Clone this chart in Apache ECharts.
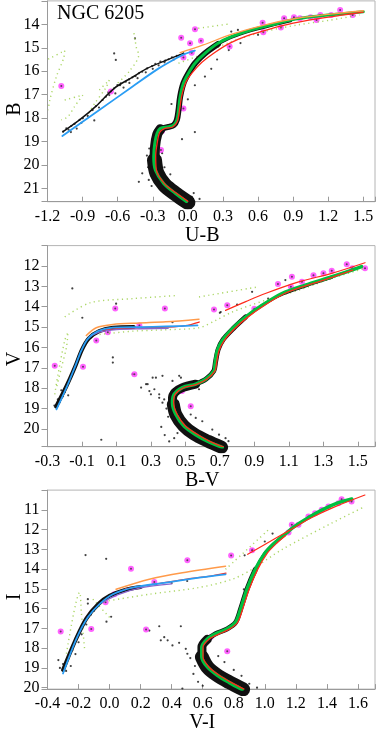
<!DOCTYPE html>
<html>
<head>
<meta charset="utf-8">
<title>NGC 6205</title>
<script src="https://cdn.jsdelivr.net/npm/echarts@6/dist/echarts.min.js"></script>
<style>
  html, body { margin: 0; padding: 0; background: #fff; }
  #chart { width: 378px; height: 734px; }
</style>
</head>
<body>
<div id="chart"></div>
<script>
// ---------- panel 1 : B vs U-B ----------
var ubTicksX = [-1.2, -0.9, -0.6, -0.3, 0.0, 0.3, 0.6, 0.9, 1.2, 1.5]
var ubTicksY = [14, 15, 16, 17, 18, 19, 20, 21]
// dense black star cloud (ridge of the sequence)
var ubCloudMS = [[0.0, 21.6], [-0.1, 21.25], [-0.2, 20.85], [-0.265, 20.35], [-0.285, 19.8]]
var ubCloudTO = [[-0.285, 19.9], [-0.28, 19.2], [-0.262, 18.7], [-0.235, 18.48]]
var ubCloudSGB = [[-0.235, 18.46], [-0.165, 18.38], [-0.12, 18.3], [-0.094, 18.08], [-0.08, 17.66], [-0.066, 17.09], [-0.038, 16.52], [0.005, 16.09], [0.061, 15.66], [0.146, 15.24], [0.258, 14.84]]
var ubCloudRGB = [[0.258, 14.84], [0.371, 14.56], [0.541, 14.27], [0.71, 14.05], [0.879, 13.85]]
var ubCloudHB = [[-1.067, 18.58], [-0.926, 18.08], [-0.785, 17.49], [-0.63, 16.73], [-0.475, 16.26], [-0.348, 15.88], [-0.193, 15.55], [-0.038, 15.24]]
var ubStars = [[-1.067, 18.58], [-1.039, 18.44], [-0.997, 18.34], [-0.969, 18.25], [-0.926, 18.08], [-0.898, 18.01], [-0.856, 17.91], [-0.814, 17.66],
  [-0.785, 17.49], [-0.729, 17.23], [-0.701, 17.09], [-0.672, 17.02], [-0.63, 16.73], [-0.602, 16.59], [-0.574, 16.52], [-0.531, 16.45],
  [-0.503, 16.35], [-0.475, 16.26], [-0.447, 16.21], [-0.419, 16.09], [-0.39, 16.02], [-0.348, 15.88], [-0.306, 15.78], [-0.278, 15.69],
  [-0.235, 15.59], [-0.193, 15.55], [-0.165, 15.49], [-0.136, 15.41], [-0.094, 15.35], [-0.066, 15.31], [-0.038, 15.24], [-1.0, 18.6],
  [-0.95, 18.45], [-0.8, 18.1], [-0.62, 16.95], [-0.55, 16.7], [-0.452, 14.6], [-0.63, 15.24], [-0.616, 15.52], [-0.419, 20.72],
  [-0.334, 20.64], [-0.136, 21.07], [0.033, 21.36], [-0.39, 20.36], [0.371, 14.31], [0.428, 14.24], [0.146, 16.23], [0.2, 15.9],
  [0.35, 15.1], [0.45, 14.8], [0.6, 14.45], [0.8, 14.1], [0.06, 18.6], [-0.05, 18.9], [-0.35, 19.6], [-0.34, 20.1], [0.05, 21.2], [-0.15, 20.4],
  [-1.02, 18.5], [-0.91, 18.2], [-0.76, 17.55], [-0.68, 16.9], [-0.58, 16.6], [-0.5, 16.5], [-0.43, 16.3], [-0.36, 16.05], [-0.3, 15.9],
  [-0.25, 15.75], [-0.2, 15.62], [-0.12, 15.5], [-0.33, 19.3], [-0.22, 19.5], [-0.2, 20.1], [-0.31, 20.9], [-0.08, 21.4], [0.1, 21.45],
  [-0.14, 17.4], [0.0, 17.2], [0.06, 16.6], [0.25, 15.5], [0.12, 15.3]]
// isochrone / model lines
var ubGreen = [[-0.01, 21.57], [-0.108, 21.21], [-0.207, 20.79], [-0.278, 20.22], [-0.292, 19.65], [-0.283, 19.08], [-0.263, 18.65], [-0.235, 18.44],
  [-0.165, 18.37], [-0.122, 18.3], [-0.094, 18.08], [-0.08, 17.66], [-0.066, 17.09], [-0.038, 16.52], [0.005, 16.09], [0.061, 15.66],
  [0.146, 15.24], [0.258, 14.81], [0.371, 14.53], [0.541, 14.24], [0.71, 14.03], [0.879, 13.82], [1.077, 13.67], [1.302, 13.56], [1.5, 13.46]]
var ubRed = [[0.0, 21.55], [-0.1, 21.2], [-0.2, 20.8], [-0.27, 20.2], [-0.275, 19.6], [-0.26, 19.0], [-0.24, 18.6], [-0.2, 18.45], [-0.13, 18.38],
  [-0.09, 18.15], [-0.07, 17.6], [-0.05, 17.0], [-0.015, 16.45], [0.04, 16.05], [0.12, 15.62], [0.23, 15.2], [0.36, 14.8], [0.5, 14.5],
  [0.7, 14.2], [0.9, 13.95], [1.1, 13.77], [1.3, 13.62], [1.5, 13.48]]
var ubBlue = [[-1.073, 18.77], [-0.757, 17.66], [-0.475, 16.66], [-0.249, 15.88], [-0.1, 15.45], [-0.024, 15.26], [0.06, 15.12]]
var ubOrange = [[-0.066, 15.21], [0.132, 14.88], [0.371, 14.43], [0.653, 14.03], [0.935, 13.74], [1.218, 13.56], [1.5, 13.42]]
var ubTrackA = [[-1.194, 15.49], [-1.053, 15.12], [-1.062, 15.45], [-1.124, 16.23], [-1.18, 17.23], [-1.194, 17.66]]
var ubTrackB = [[-1.053, 17.23], [-0.898, 17.02], [-0.969, 17.51], [-1.025, 17.94], [-1.082, 18.08]]
var ubTrackC = [[-0.757, 16.8], [-0.672, 16.38], [-0.7, 16.7], [-0.8, 17.4], [-0.85, 17.8]]
var ubTrackD = [[-0.461, 14.38], [-0.45, 14.7], [-0.44, 15.0], [-0.42, 15.3], [-0.5, 16.0], [-0.62, 16.6]]
var ubTrackE = [[-0.08, 15.66], [0.146, 15.24], [0.371, 14.74], [0.653, 14.31], [0.935, 14.03], [1.218, 13.82], [1.471, 13.6]]
var ubTrackF = [[0.089, 14.17], [0.343, 13.99]]
var ubMagenta = [[-1.082, 16.63], [-0.658, 16.87], [-0.057, 14.57], [0.061, 14.21], [0.019, 14.81], [0.112, 14.7], [0.033, 15.21], [-0.038, 15.42],
  [-0.038, 17.59], [-0.23, 19.36], [-0.221, 18.55], [0.639, 13.93], [0.645, 14.34], [0.357, 14.95], [0.823, 13.74], [0.907, 13.7],
  [1.302, 13.39], [1.409, 13.6], [1.133, 13.6], [1.1, 13.82], [0.958, 13.74], [1.226, 13.6], [0.795, 14.13], [1.05, 13.7]]

// ---------- panel 2 : V vs B-V ----------
var bvTicksX = [-0.3, -0.1, 0.1, 0.3, 0.5, 0.7, 0.9, 1.1, 1.3, 1.5]
var bvTicksY = [12, 13, 14, 15, 16, 17, 18, 19, 20]
var bvCloudMS = [[0.71, 20.9], [0.63, 20.6], [0.55, 20.25], [0.49, 19.85], [0.445, 19.3], [0.43, 18.8]]
var bvCloudTO = [[0.43, 18.9], [0.425, 18.5], [0.44, 18.2], [0.48, 17.98], [0.56, 17.8]]
var bvCloudRGB = [[0.56, 17.8], [0.62, 17.55], [0.665, 17.15], [0.675, 16.7], [0.69, 16.1], [0.72, 15.6], [0.78, 15.05], [0.85, 14.5]]
var bvCloudUp = [[0.85, 14.5], [0.945, 13.93], [1.06, 13.4], [1.2, 12.98], [1.35, 12.57]]
var bvCloudHB = [[-0.25, 18.9], [-0.19, 17.9], [-0.14, 16.95], [-0.1, 16.1], [-0.06, 15.55], [0.0, 15.2], [0.08, 15.03], [0.2, 15.0]]
var bvStars = [[-0.23, 18.7], [-0.21, 18.4], [-0.2, 18.2], [-0.17, 17.6], [-0.16, 17.35], [-0.15, 17.1], [-0.13, 16.7], [-0.12, 16.45],
  [-0.11, 16.25], [-0.09, 15.95], [-0.07, 15.7], [-0.05, 15.5], [-0.03, 15.35], [0.02, 15.15], [0.05, 15.1], [0.12, 15.05], [0.16, 15.0],
  [-0.24, 18.55], [-0.26, 18.85], [-0.18, 18.35], [-0.22, 18.1], [-0.156, 13.1], [0.098, 13.85], [0.425, 14.76], [0.705, 14.26],
  [0.887, 13.27], [1.08, 12.69], [0.272, 17.8], [0.329, 17.48], [0.367, 17.39], [0.425, 17.64], [0.291, 18.14], [0.348, 18.47],
  [0.194, 17.31], [0.243, 17.97], [0.474, 17.48], [0.012, 20.53], [0.079, 16.49], [0.079, 16.74], [-0.098, 14.54], [0.31, 17.48],
  [0.281, 17.8], [0.32, 18.05], [0.348, 18.3], [0.377, 18.55], [0.3, 18.3], [0.367, 18.71], [0.464, 17.39], [0.579, 18.05],
  [0.531, 19.29], [0.56, 19.46], [0.598, 19.62], [0.656, 20.03], [0.695, 20.28], [0.733, 20.45], [0.406, 20.61], [0.435, 20.45],
  [0.454, 20.2], [0.38, 20.3], [0.36, 19.9], [0.4, 19.4], [0.39, 19.0], [0.75, 20.6], [0.7, 14.3], [0.8, 13.9], [0.98, 13.6]]
var bvGreen = [[0.714, 20.9], [0.637, 20.64], [0.56, 20.28], [0.493, 19.87], [0.445, 19.29], [0.425, 18.71], [0.435, 18.3], [0.483, 17.97],
  [0.56, 17.8], [0.618, 17.56], [0.666, 17.15], [0.672, 16.8], [0.685, 16.16], [0.714, 15.66], [0.772, 15.08], [0.849, 14.51],
  [0.945, 13.93], [1.06, 13.35], [1.195, 12.94], [1.349, 12.53], [1.465, 12.2], [1.522, 12.03]]
var bvRed = [[0.72, 20.88], [0.645, 20.62], [0.568, 20.26], [0.5, 19.85], [0.452, 19.28], [0.432, 18.7], [0.44, 18.3], [0.487, 17.99],
  [0.565, 17.81], [0.624, 17.56], [0.672, 17.15], [0.68, 16.8], [0.695, 16.16], [0.725, 15.66], [0.785, 15.08], [0.862, 14.51],
  [0.96, 13.93], [1.075, 13.35], [1.21, 12.94], [1.36, 12.53], [1.47, 12.2]]
var bvBlue = [[-0.248, 19.04], [-0.19, 17.97], [-0.142, 16.98], [-0.104, 16.16], [-0.066, 15.58], [-0.008, 15.2], [0.079, 15.03],
  [0.233, 15.0], [0.387, 14.97], [0.57, 14.92]]
var bvOrange = [[-0.075, 15.41], [-0.017, 15.03], [0.079, 14.87], [0.233, 14.8], [0.387, 14.74], [0.579, 14.61]]
var bvRedHB = [[0.0, 15.17], [0.1, 15.07], [0.25, 15.03], [0.4, 15.0], [0.5, 14.93], [0.58, 14.75]]
var bvPurple = [[-0.06, 15.5], [0.0, 15.25], [0.1, 15.12], [0.25, 15.08], [0.4, 15.06]]
var bvAgb = [[0.733, 14.18], [0.85, 13.75], [0.964, 13.35], [1.157, 12.78], [1.349, 12.36], [1.542, 11.84]]
var bvTrackA = [[0.002, 15.36], [0.194, 15.2], [0.387, 15.13], [0.579, 15.03], [0.676, 14.67], [0.772, 14.26], [0.964, 13.68],
  [1.157, 13.19], [1.349, 12.61], [1.542, 12.11]]
var bvTrackB = [[0.579, 13.52], [0.926, 13.02]]
var bvTrackC = [[-0.258, 18.3], [-0.239, 17.31], [-0.2, 15.66], [-0.181, 15.25], [-0.19, 15.99], [-0.219, 16.98], [-0.248, 17.97]]
var bvTrackD = [[-0.2, 14.5], [-0.05, 13.8], [0.2, 13.6], [0.45, 13.45]]
var bvMagenta = [[-0.258, 16.9], [0.093, 14.09], [0.381, 14.09], [0.666, 14.14], [0.743, 13.93], [0.204, 17.31], [-0.094, 16.95],
  [-0.017, 15.66], [0.05, 15.25], [0.233, 14.92], [0.48, 18.14], [0.531, 18.88], [1.436, 11.92], [1.468, 12.11], [1.542, 12.11],
  [1.349, 12.23], [1.301, 12.36], [1.243, 12.45], [1.176, 12.78], [1.118, 12.53], [1.037, 12.89], [1.112, 13.02], [0.9, 14.1]]

// ---------- panel 3 : I vs V-I ----------
var viTicksX = [-0.4, -0.2, 0.0, 0.2, 0.4, 0.6, 0.8, 1.0, 1.2, 1.4, 1.6]
var viTicksY = [11, 12, 13, 14, 15, 16, 17, 18, 19, 20]
var viCloudMS = [[0.86, 20.08], [0.77, 19.72], [0.69, 19.35], [0.63, 18.95], [0.595, 18.45]]
var viCloudTO = [[0.595, 18.6], [0.595, 17.94], [0.63, 17.55]]
var viCloudSGB = [[0.63, 17.55], [0.683, 17.27], [0.758, 17.02], [0.812, 16.69], [0.844, 16.02], [0.886, 15.0], [0.94, 14.0]]
var viCloudUp = [[0.94, 14.0], [1.0, 13.2], [1.06, 12.7], [1.12, 12.3]]
var viCloudHB = [[-0.3, 19.1], [-0.22, 17.6], [-0.15, 16.5], [-0.07, 15.75], [0.0, 15.35], [0.1, 15.05], [0.2, 14.9]]
var viStars = [[-0.33, 18.6], [-0.3, 18.8], [-0.27, 18.6], [-0.25, 18.9], [-0.32, 19.0], [-0.28, 19.15], [-0.22, 18.3], [-0.24, 18.1],
  [-0.2, 17.7], [-0.18, 17.3], [-0.15, 16.8], [-0.12, 16.3], [-0.1, 16.1], [-0.08, 15.9], [-0.05, 15.6], [-0.02, 15.45], [0.04, 15.2],
  [0.08, 15.1], [0.15, 15.0], [0.25, 14.85], [0.3, 14.8], [0.4, 14.7], [0.5, 14.6], [-0.155, 13.29], [-0.022, 13.48], [-0.14, 15.52],
  [-0.14, 15.74], [0.01, 16.41], [-0.02, 16.66], [0.32, 16.89], [0.256, 17.11], [0.459, 16.89], [0.352, 17.44], [0.374, 17.6],
  [0.448, 17.73], [0.405, 17.86], [0.491, 18.03], [0.501, 18.28], [0.33, 17.6], [0.865, 15.02], [0.469, 20.04], [0.52, 18.5],
  [0.55, 18.9], [0.54, 19.3], [0.57, 19.7], [0.6, 19.9], [0.9, 19.8], [0.95, 20.0], [0.85, 19.4], [0.8, 19.1], [0.74, 18.7],
  [0.7, 18.4], [0.87, 13.3], [0.92, 13.0], [1.0, 12.6], [1.05, 12.2]]
var viGreen = [[0.854, 20.09], [0.769, 19.73], [0.694, 19.37], [0.63, 18.95], [0.594, 18.44], [0.594, 17.94], [0.63, 17.53],
  [0.683, 17.27], [0.758, 17.02], [0.812, 16.69], [0.844, 16.02], [0.886, 15.0], [0.94, 14.0], [1.0, 13.2], [1.06, 12.7],
  [1.12, 12.3], [1.19, 11.85], [1.28, 11.4], [1.37, 11.0], [1.47, 10.65], [1.56, 10.45]]
var viRed = [[0.866, 20.07], [0.78, 19.72], [0.704, 19.36], [0.64, 18.95], [0.602, 18.45], [0.602, 17.95], [0.64, 17.55], [0.7, 17.3],
  [0.77, 17.05], [0.825, 16.7], [0.858, 16.0], [0.9, 15.0], [0.955, 14.0], [1.015, 13.2], [1.075, 12.7], [1.135, 12.3]]
var viBlue = [[-0.3, 19.28], [-0.214, 17.53], [-0.14, 16.44], [-0.065, 15.77], [0.021, 15.27], [0.149, 14.93], [0.363, 14.68],
  [0.576, 14.43], [0.747, 14.26]]
var viOrange = [[0.042, 15.02], [0.256, 14.51], [0.469, 14.18], [0.747, 13.85]]
var viRedHB = [[0.1, 15.0], [0.3, 14.75], [0.5, 14.5], [0.65, 14.35], [0.75, 14.2]]
var viPurple = [[-0.05, 15.7], [0.05, 15.3], [0.2, 14.95], [0.4, 14.75]]
var viAgb = [[0.89, 13.25], [1.0, 12.75], [1.1, 12.3], [1.2, 11.85], [1.3, 11.4], [1.45, 10.85], [1.645, 10.25]]
var viTrackA = [[-0.278, 18.28], [-0.193, 15.18], [-0.182, 16.19], [-0.161, 18.03]]
var viTrackB = [[-0.108, 15.52], [0.0, 16.44]]
var viTrackC = [[-0.065, 15.68], [0.256, 15.27], [0.576, 14.93], [0.79, 14.51], [0.918, 14.01], [1.11, 13.01], [1.431, 11.67], [1.645, 10.83]]
var viTrackD = [[0.747, 14.01], [1.025, 12.0]]
var viMagenta = [[-0.315, 17.16], [0.138, 13.98], [0.501, 13.55], [0.235, 17.06], [0.288, 14.65], [-0.026, 15.68], [0.031, 15.27],
  [-0.118, 17.03], [0.651, 17.44], [0.758, 18.16], [0.918, 13.04], [0.783, 13.31], [1.153, 12.14], [1.174, 11.75], [1.217, 11.75],
  [1.281, 11.34], [1.324, 11.17], [1.367, 11.0], [1.41, 10.83], [1.474, 10.66], [1.495, 10.46], [1.559, 10.58]]

var FONT = 'Liberation Serif'
var C = { black: '#111', green: '#00c040', red: '#ff2a1a', blue: '#2a9df4', orange: '#ff9a4a', purple: '#8a66cc',
  lime: '#9ccf4a', magenta: '#ff3cff', axis: '#9a9a9a' }

function pick(list, dec) {
  return function (v) {
    for (var i = 0; i < list.length; i++) {
      if (Math.abs(v - list[i]) < 1e-6) return dec ? list[i].toFixed(dec) : String(list[i])
    }
    return ''
  }
}

function xAx(g, min, max, step, ticks, name, gap) {
  return {
    gridIndex: g, type: 'value', min: min, max: max, interval: step,
    name: name, nameLocation: 'middle', nameGap: gap,
    nameTextStyle: { fontFamily: FONT, fontSize: 20, color: '#000', padding: [0, 18, 0, 0] },
    axisLine: { onZero: false, lineStyle: { color: C.axis } },
    axisTick: { inside: true, length: 5, lineStyle: { color: C.axis } },
    axisLabel: { fontFamily: FONT, fontSize: 16, color: '#000', margin: 7, formatter: pick(ticks, 1) },
    splitLine: { show: false }
  }
}

function yAx(g, min, max, ticks) {
  return {
    gridIndex: g, type: 'value', inverse: true, min: min, max: max, interval: 1,
    axisLine: { show: true, onZero: false, lineStyle: { color: C.axis } },
    axisTick: { length: 6, lineStyle: { color: C.axis } },
    axisLabel: { fontFamily: FONT, fontSize: 16, color: '#000', margin: 8, formatter: pick(ticks, 0) },
    splitLine: { show: false }
  }
}

function line(g, data, color, width) {
  return {
    type: 'line', xAxisIndex: g, yAxisIndex: g, data: data, symbol: 'none', smooth: 0.3, silent: true,
    lineStyle: { color: color, width: width, cap: 'round', join: 'round' }
  }
}

// sparse dotted tracks of the synthetic horizontal branch models
function track(g, data) {
  return {
    type: 'line', xAxisIndex: g, yAxisIndex: g, data: data, symbol: 'none', smooth: 0.3, silent: true,
    lineStyle: { color: C.lime, width: 1.4, type: [1.2, 3.5], opacity: 0.85 }
  }
}

function dots(g, data, color, size) {
  return { type: 'scatter', xAxisIndex: g, yAxisIndex: g, data: data, symbolSize: size, silent: true, itemStyle: { color: color } }
}

var panels = [
  { tracks: [ubTrackA, ubTrackB, ubTrackC, ubTrackD, ubTrackE, ubTrackF],
    clouds: [[ubCloudMS, 15], [ubCloudTO, 10], [ubCloudSGB, 6], [ubCloudRGB, 3], [ubCloudHB, 1.5]],
    stars: ubStars, models: [[ubGreen, C.green, 3], [ubRed, C.red, 1.3], [ubOrange, C.orange, 1.3], [ubBlue, C.blue, 1.8]],
    magenta: ubMagenta },
  { tracks: [bvTrackA, bvTrackB, bvTrackC, bvTrackD],
    clouds: [[bvCloudMS, 13], [bvCloudTO, 9], [bvCloudRGB, 5], [bvCloudUp, 2.5], [bvCloudHB, 4]],
    stars: bvStars, models: [[bvGreen, C.green, 3.5], [bvRed, C.red, 1.3], [bvAgb, C.red, 1.2], [bvOrange, C.orange, 1.5],
      [bvRedHB, C.red, 1.3], [bvPurple, C.purple, 1.3], [bvBlue, C.blue, 1.8]],
    magenta: bvMagenta },
  { tracks: [viTrackA, viTrackB, viTrackC, viTrackD],
    clouds: [[viCloudMS, 14], [viCloudTO, 9], [viCloudSGB, 5], [viCloudUp, 3], [viCloudHB, 4]],
    stars: viStars, models: [[viGreen, C.green, 3.5], [viRed, C.red, 1.3], [viAgb, C.red, 1.2], [viOrange, C.orange, 1.5],
      [viRedHB, C.red, 1.3], [viPurple, C.purple, 1.3], [viBlue, C.blue, 1.8]],
    magenta: viMagenta }
]

var series = []
panels.forEach(function (p, g) {
  p.tracks.forEach(function (t) { series.push(track(g, t)) })
  p.clouds.forEach(function (c) { series.push(line(g, c[0], C.black, c[1])) })
  series.push(dots(g, p.stars, C.black, 2.2))
  p.models.forEach(function (m) { series.push(line(g, m[0], m[1], m[2])) })
  series.push(dots(g, p.magenta, C.magenta, 6))
  series.push(dots(g, p.magenta, '#333', 2))
})

var chart = echarts.init(document.getElementById('chart'))
chart.setOption({
  animation: false,
  backgroundColor: '#fff',
  grid: [
    { left: 47.5, right: 1, top: 0.9, height: 200.8, show: true, borderColor: '#b4b4b4' },
    { left: 47.5, right: 1, top: 245.6, height: 201.1, show: true, borderColor: '#b4b4b4' },
    { left: 47.5, right: 1, top: 490.1, height: 200.6, show: true, borderColor: '#b4b4b4' }
  ],
  xAxis: [
    xAx(0, -1.2, 1.6, 0.3, ubTicksX, 'U-B', 19),
    xAx(1, -0.3, 1.6, 0.2, bvTicksX, 'B-V', 16),
    xAx(2, -0.4, 1.71, 0.2, viTicksX, 'V-I', 18)
  ],
  yAxis: [
    yAx(0, 13, 21.57, ubTicksY),
    yAx(1, 11, 20.87, bvTicksY),
    yAx(2, 10, 20.07, viTicksY)
  ],
  graphic: [
    { type: 'text', left: 57, top: 4, style: { text: 'NGC 6205', font: '20px "Liberation Serif"', fill: '#000' } },
    { type: 'text', x: 15, y: 109, rotation: Math.PI / 2, style: { text: 'B', font: '20px "Liberation Serif"', fill: '#000', align: 'center', verticalAlign: 'middle' } },
    { type: 'text', x: 15, y: 359, rotation: Math.PI / 2, style: { text: 'V', font: '20px "Liberation Serif"', fill: '#000', align: 'center', verticalAlign: 'middle' } },
    { type: 'text', x: 15, y: 597, rotation: Math.PI / 2, style: { text: 'I', font: '20px "Liberation Serif"', fill: '#000', align: 'center', verticalAlign: 'middle' } }
  ],
  series: series
})
</script>
</body>
</html>
